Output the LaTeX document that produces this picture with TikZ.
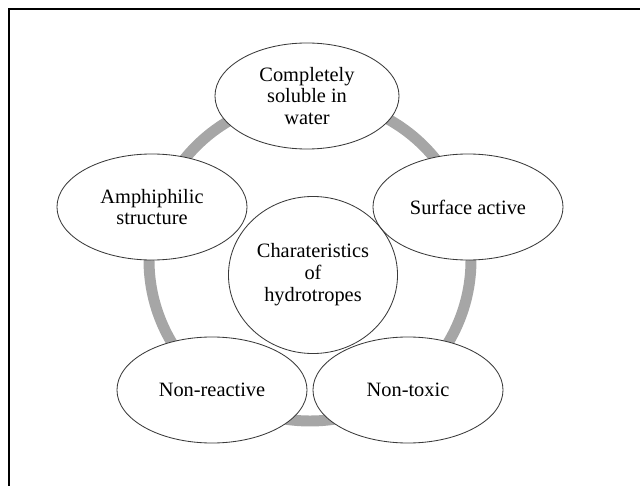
\documentclass[tikz,border=0pt]{standalone}
\usepackage{fontspec}
\setmainfont{Liberation Serif}
\usepackage{xcolor}
\usepackage{tikz}
\usetikzlibrary{shapes.geometric, positioning, calc}

\definecolor{ringgray}{HTML}{A6A6A6}
\definecolor{edgegray}{HTML}{3A3A3A}

\begin{document}
\begin{tikzpicture}[
    x=0.025cm, y=-0.025cm,
    frame/.style={line width=0.8pt,black},
    ring/.style={line width=7.8pt,ringgray},
    bubble/.style={ellipse,draw=edgegray,line width=0.6pt,fill=white,
        minimum width=4.75cm,minimum height=2.65cm,inner sep=0pt,
        align=center,font=\fontsize{14.5}{15.6}\selectfont},
    hub/.style={bubble,fill=none,minimum width=4.225cm,minimum height=3.925cm}
]

\useasboundingbox (0,0) rectangle (640,486);

% Frame lines
\draw[frame] (9,486) -- (9,9) -- (640,9);

% Cycle ring
\coordinate (ringc) at (310,260);
\draw[ring] (ringc) circle [radius=161];

% Outer nodes
\node[bubble,minimum width=4.6cm] (soluble) at (307,96) {Completely\\soluble in\\water};
\node[bubble] (surface) at (468,207) {Surface active};
\node[bubble] (amphi) at (152,207) {Amphiphilic\\structure};
\node[bubble] (nonreact) at (212,390) {Non-reactive};
\node[bubble] (nontox) at (408,390) {Non-toxic};

% Centre node
\node[hub] (charact) at (313,275) {Charateristics\\of\\hydrotropes};

\end{tikzpicture}
\end{document}
